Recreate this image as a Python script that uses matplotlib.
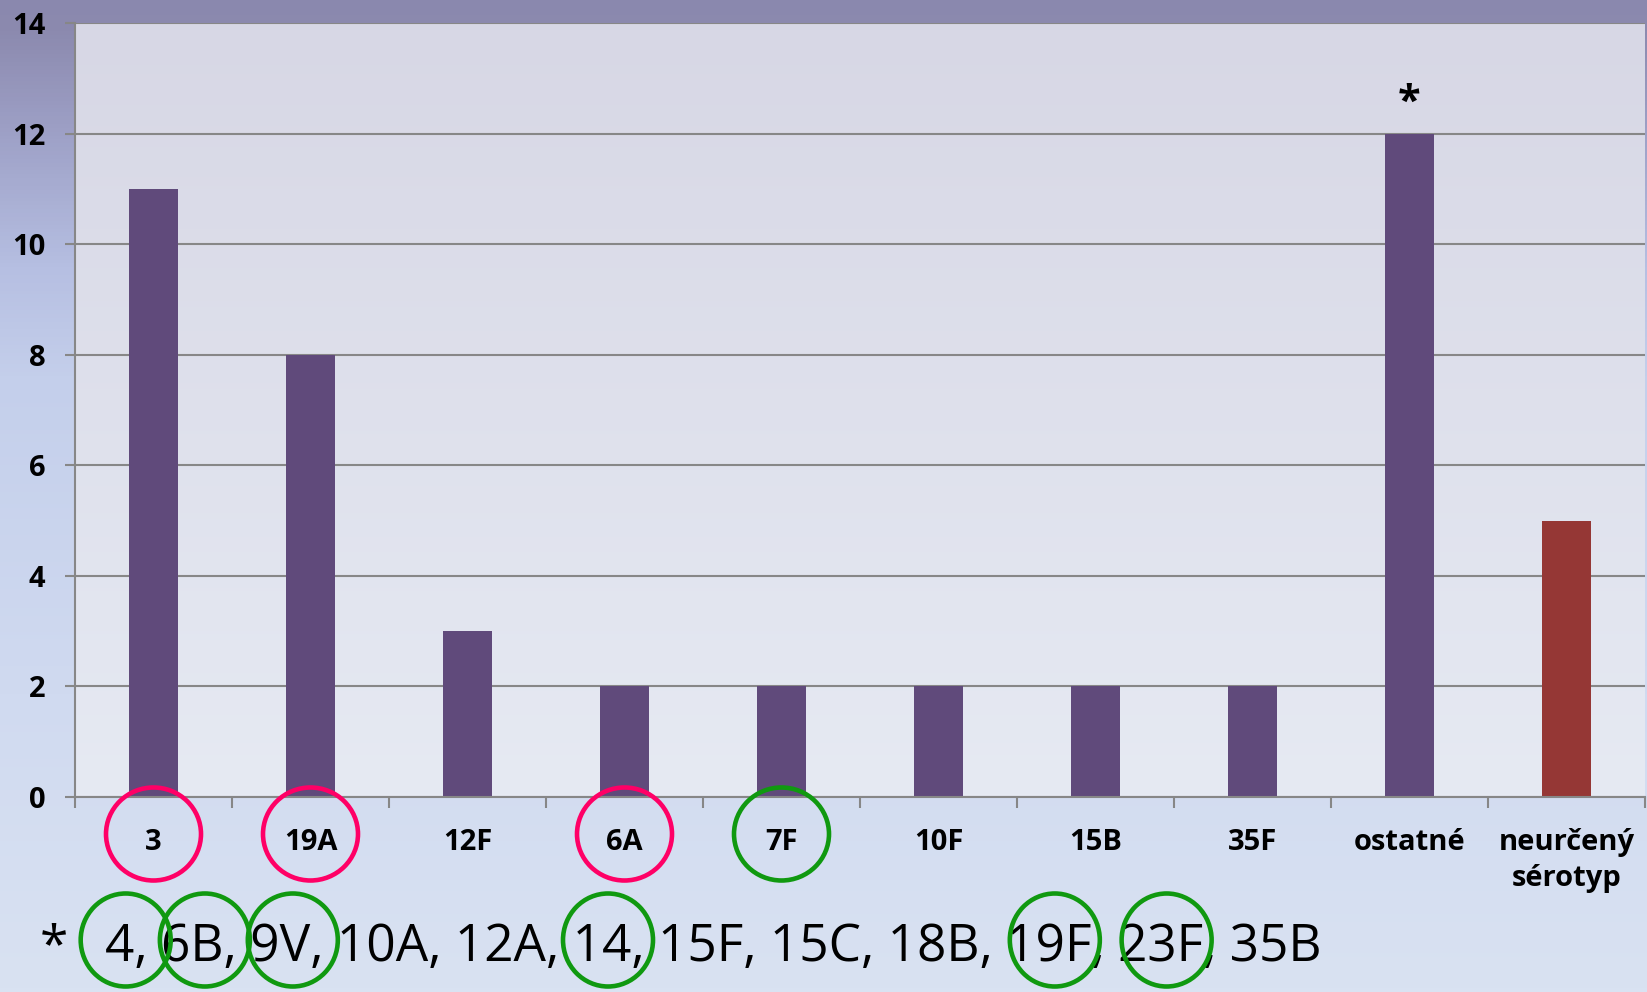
import numpy as np
import matplotlib
matplotlib.use('Agg')
import matplotlib.pyplot as plt
from matplotlib.colors import LinearSegmentedColormap
from matplotlib.patches import Ellipse

#---------------------------------------------------------------------
# data
#---------------------------------------------------------------------
serotypes = ['3', '19A', '12F', '6A', '7F', '10F', '15B', '35F', 'ostatné',
             'neurčený\nsérotyp']
counts = [11, 8, 3, 2, 2, 2, 2, 2, 12, 5]
bar_colors = ['#604a7b'] * 9 + ['#953735']
pink_circled = ['3', '19A', '6A']
green_circled = ['7F']
starred = 'ostatné'

other_serotypes = ['4', '6B', '9V', '10A', '12A', '14', '15F', '15C', '18B',
                   '19F', '23F', '35B']
other_circled_with_comma = ['6B', '9V']
other_circled = ['4', '14', '19F', '23F']

yticks = np.arange(0, 15, 2)

#---------------------------------------------------------------------
W, H = 1647, 992
fig = plt.figure(figsize=[W / 100, H / 100], dpi=100)
plt.rcParams['font.family'] = ['Open Sans', 'DejaVu Sans']

# figure background gradient
bg = fig.add_axes([0, 0, 1, 1], zorder=-10)
cmap_bg = LinearSegmentedColormap.from_list(
    'bg', [(0.0, '#8a88ae'), (0.03, '#8c8aaf'), (0.14, '#9fa2c8'),
           (0.27, '#b6bfe2'), (0.38, '#c4cfeb'), (0.7, '#d0daf0'),
           (1.0, '#d9e2f2')])
bg.imshow(np.linspace(0, 1, 256).reshape(-1, 1), cmap=cmap_bg,
          aspect='auto', extent=[0, 1, 0, 1], origin='upper')
bg.set_axis_off()

ax = fig.add_axes([75 / W, 1 - 797 / H, 1570 / W, 774 / H])
ax.set_facecolor('none')

# plot area gradient
cmap_pa = LinearSegmentedColormap.from_list('pa', ['#d7d7e5', '#e6eaf3'])
x = np.arange(len(serotypes))
ax.imshow(np.linspace(0, 1, 256).reshape(-1, 1), cmap=cmap_pa, aspect='auto',
          extent=[-0.5, len(serotypes) - 0.5, 0, 14], origin='upper', zorder=0)

ax.bar(x, counts, width=0.31, color=bar_colors, zorder=3)

ax.set_xlim(-0.5, len(serotypes) - 0.5)
ax.set_ylim(0, 14)
ax.set_yticks(yticks)
ax.yaxis.grid(True, color='#878787', linewidth=1.5, zorder=1)
ax.set_axisbelow(True)

for s in ['top', 'right']:
    ax.spines[s].set_visible(False)
for s in ['left', 'bottom']:
    ax.spines[s].set_color('#878787')
    ax.spines[s].set_linewidth(1.5)
    ax.spines[s].set_zorder(4)

ax.tick_params(axis='y', direction='out', length=7.5, width=1.5,
               color='#878787', pad=14, labelsize=21)
ax.set_xticks(x)
ax.set_xticklabels(serotypes, linespacing=1.35)
ax.set_xticks(np.arange(-0.5, len(serotypes)), minor=True)
ax.tick_params(axis='x', which='major', length=0, pad=22, labelsize=21)
ax.tick_params(axis='x', which='minor', direction='out', length=8, width=1.5,
               color='#878787')
for lab in ax.get_xticklabels() + ax.get_yticklabels():
    lab.set_fontweight('bold')

# star above the "ostatne" bar
i_star = serotypes.index(starred)
ax.text(i_star, counts[i_star] + 0.35, '*', ha='center', va='baseline',
        fontsize=30, fontweight='bold', zorder=5)

#---------------------------------------------------------------------
# circles around x labels
d_w, d_h = 95 / W, 93 / H
for lab, col in [(l, '#ff0066') for l in pink_circled] + \
                [(l, '#109910') for l in green_circled]:
    i = serotypes.index(lab)
    px, _ = ax.transData.transform((i, 0))
    e = Ellipse((px / W, 1 - 834 / H), d_w, d_h, transform=fig.transFigure,
                fill=False, edgecolor=col, linewidth=3.3, zorder=10)
    fig.patches.append(e)

#---------------------------------------------------------------------
# footnote
fn_size = 37
base_y = 1 - 961 / H
x0 = 105 / W
fig.text(40 / W, base_y, '*', fontsize=fn_size, va='baseline', ha='left')
footnote = ', '.join(other_serotypes)
fig.text(x0, base_y, footnote, fontsize=fn_size, va='baseline', ha='left')

r = fig.canvas.get_renderer()


def text_w(s):
    t = fig.text(0, 0, s, fontsize=fn_size)
    w = t.get_window_extent(r).width
    t.remove()
    return w


for k, tok in enumerate(other_serotypes):
    if tok in other_circled_with_comma:
        shown = tok + ','
    elif tok in other_circled:
        shown = tok
    else:
        continue
    prefix = ', '.join(other_serotypes[:k])
    prefix = prefix + ', ' if prefix else ''
    right = text_w(prefix + shown)
    cx = x0 * W + right - text_w(shown) / 2 + 6
    e = Ellipse((cx / W, 1 - 940 / H), 90 / W, 93 / H,
                transform=fig.transFigure, fill=False, edgecolor='#109910',
                linewidth=3.3, zorder=10)
    fig.patches.append(e)

fig.savefig('out.png', dpi=100)
